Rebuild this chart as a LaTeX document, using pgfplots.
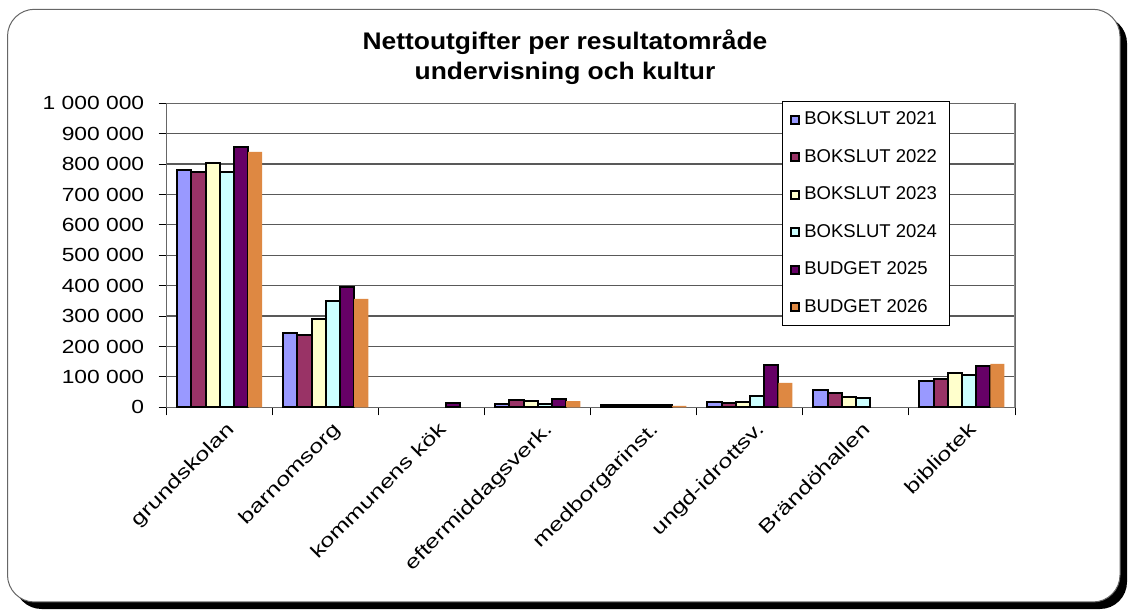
\documentclass[border=0pt]{standalone}
\usepackage{pgfplots}
\pgfplotsset{compat=1.18}
\usepackage{graphicx}
\usepackage{fontspec}
\setmainfont{Liberation Sans}
\definecolor{cA}{HTML}{9999FF}
\definecolor{cB}{HTML}{993366}
\definecolor{cC}{HTML}{FFFFCC}
\definecolor{cD}{HTML}{CCFFFF}
\definecolor{cE}{HTML}{660066}
\definecolor{cF}{HTML}{DE8842}
\newcommand\W[1]{\scalebox{1.2}[1]{#1}}
\newcommand\V[1]{\scalebox{1.32}[1]{#1}}
\begin{document}
\begin{tikzpicture}
\useasboundingbox (0bp,0bp) rectangle (1128bp,610bp);
\fill[black, rounded corners=27bp] (14.5bp,1bp) rectangle (1127bp,593.7bp);
\draw[fill=white, draw=black!60, line width=1bp, rounded corners=27bp] (7.5bp,8bp) rectangle (1120bp,600.7bp);
\node[anchor=base, font=\bfseries\fontsize{24bp}{30bp}\selectfont] at (565bp,560bp) {\scalebox{1.1}[1]{Nettoutgifter per resultatområde}};
\node[anchor=base, font=\bfseries\fontsize{24bp}{30bp}\selectfont] at (565bp,530bp) {\scalebox{1.1}[1]{undervisning och kultur}};
\begin{axis}[
  at={(166.7bp,202.7bp)}, anchor=south west,
  scale only axis, width=848.3bp, height=304bp,
  xmin=-0.5, xmax=7.5, ymin=0, ymax=1000000,
  ybar=0pt, bar width=14.17bp,
  axis line style={draw=black!60, line width=1.3bp},
  ymajorgrids, grid style={draw=black!65, line width=1.2bp},
  tick pos=left, tick align=outside, major tick length=8bp,
  tick style={draw=black, line width=1bp},
  scaled y ticks=false,
  ytick={0,100000,200000,300000,400000,500000,600000,700000,800000,900000,1000000},
  yticklabels={\W{0},\W{100 000},\W{200 000},\W{300 000},\W{400 000},\W{500 000},\W{600 000},\W{700 000},\W{800 000},\W{900 000},\W{1 000 000}},
  yticklabel style={font=\fontsize{19bp}{22bp}\selectfont, xshift=-11bp},
  xtick={-0.5,0.5,1.5,2.5,3.5,4.5,5.5,6.5,7.5},
  xticklabels={},
  extra x ticks={0,1,2,3,4,5,6,7},
  extra x tick labels={\V{grundskolan},\V{barnomsorg},\V{kommunens kök},\V{eftermiddagsverk.},\V{medborgarinst.},\V{ungd-idrottsv.},\V{Brändöhallen},\V{bibliotek}},
  extra x tick style={major tick length=0pt, tick label style={rotate=45, anchor=north east, font=\fontsize{19bp}{22bp}\selectfont, xshift=-2bp, yshift=-10bp}},
  legend image code/.code={\draw[#1, line width=2bp] (1bp,-4bp) rectangle (9bp,4bp);},
  legend cell align=left,
  legend style={at={(rel axis cs:0.7253,1.0076)}, anchor=north west, draw=black, line width=0.8bp, fill=white,
    font=\fontsize{18.5bp}{22bp}\selectfont, row sep=17bp, inner sep=8bp,
    nodes={inner xsep=4bp, inner ysep=2bp, text height=13.5bp, text depth=3bp}},
  every axis plot/.append style={draw=black, line width=2bp},
]
\addplot[fill=cA] coordinates {(0,782000) (1,244000) (3,10000) (4,7000) (5,16000) (6,57000) (7,86000)};
\addplot[fill=cB] coordinates {(0,774000) (1,239000) (3,24000) (4,7000) (5,13000) (6,48000) (7,92000)};
\addplot[fill=cC] coordinates {(0,805000) (1,289000) (3,21000) (4,7000) (5,17000) (6,33000) (7,114000)};
\addplot[fill=cD] coordinates {(0,775000) (1,349000) (3,10000) (4,8000) (5,37000) (6,32000) (7,105000)};
\addplot[fill=cE] coordinates {(0,856000) (1,396000) (2,13000) (3,28000) (4,8000) (5,140000) (7,137000)};
\addplot[fill=cF, draw=none] coordinates {(0,840000) (1,357000) (3,20000) (4,5000) (5,80000) (7,143000)};
\legend{BOKSLUT 2021,BOKSLUT 2022,BOKSLUT 2023,BOKSLUT 2024,BUDGET 2025,BUDGET 2026}
\draw[black!45, line width=2.5bp] (rel axis cs:1,0) -- (rel axis cs:1,1);
\end{axis}
\end{tikzpicture}
\end{document}
